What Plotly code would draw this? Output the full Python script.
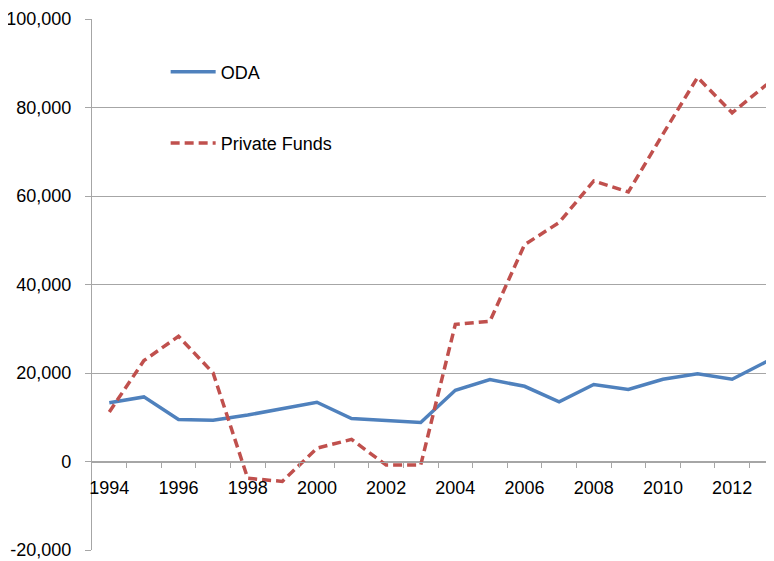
import plotly.graph_objects as go

years = list(range(1994, 2014))
oda = [13300, 14600, 9500, 9300, 10500, 12000, 13400, 9700, 9200, 8800,
       16100, 18500, 17000, 13500, 17400, 16300, 18600, 19800, 18600, 22600]
private_funds = [11200, 22800, 28300, 20000, -3800, -4500, 3000, 5000, -800, -800,
                 31000, 31700, 49000, 54000, 63400, 60900, 74000, 86800, 78800, 85200]

y_ticks = [-20000, 0, 20000, 40000, 60000, 80000, 100000]
y_labels = ['-20,000', '0', '20,000', '40,000', '60,000', '80,000', '100,000']
x_label_years = list(range(1994, 2013, 2))

FONT = 'Liberation Sans'
GRID = '#a6a6a6'
y_min, y_max = -20000, 100000
zero_pos = (0 - y_min) / (y_max - y_min)
x_range = [1993.5, 2013.21]

fig = go.Figure()
fig.add_trace(go.Scatter(x=years, y=oda, name='ODA', mode='lines', legendgroup='a',
                         line=dict(color='#4f81bd', width=3.5)))
fig.add_trace(go.Scatter(x=years, y=private_funds, name='Private Funds', mode='lines',
                         legendgroup='b', line=dict(color='#c0504d', width=3.5, dash='9px,5px')))

# invisible trace so the tick-only axis gets drawn
fig.add_trace(go.Scatter(x=[years[0]], y=[0], xaxis='x2', mode='markers',
                         marker=dict(opacity=0), showlegend=False, hoverinfo='skip'))

# page body keeps its default 8px margin, so the figure is 8px smaller
fig.update_layout(
    width=766, height=553,
    margin=dict(l=84, r=0, t=11, b=11, autoexpand=False),
    paper_bgcolor='white', plot_bgcolor='white',
    font=dict(family=FONT, size=18, color='#000000'),
    showlegend=True,
    legend=dict(x=0.108, y=0.935, xanchor='left', yanchor='top',
                bgcolor='rgba(0,0,0,0)', tracegroupgap=45, itemwidth=45,
                font=dict(family=FONT, size=18)),
    xaxis=dict(range=x_range, anchor='free', position=zero_pos, automargin=False,
               tickvals=x_label_years, ticktext=[str(y) for y in x_label_years],
               ticks='', showgrid=False, zeroline=False,
               showline=True, linecolor=GRID, linewidth=1.3,
               ticklabelstandoff=10),
    xaxis2=dict(range=x_range, overlaying='x', anchor='free', position=zero_pos,
                side='bottom', tickvals=[y + 0.5 for y in years[:-1]], automargin=False,
                showticklabels=False, ticks='outside', ticklen=5,
                tickcolor=GRID, tickwidth=1.3, showgrid=False, zeroline=False,
                showline=False),
    yaxis=dict(range=[y_min, y_max], tickvals=y_ticks, ticktext=y_labels,
               ticks='outside', ticklen=6, tickcolor=GRID, tickwidth=1.3,
               showgrid=True, gridcolor=GRID, gridwidth=1.3, automargin=False,
               showline=True, linecolor=GRID, linewidth=1.3,
               zeroline=False, ticklabelstandoff=10),
)

fig.write_html("out.html")
